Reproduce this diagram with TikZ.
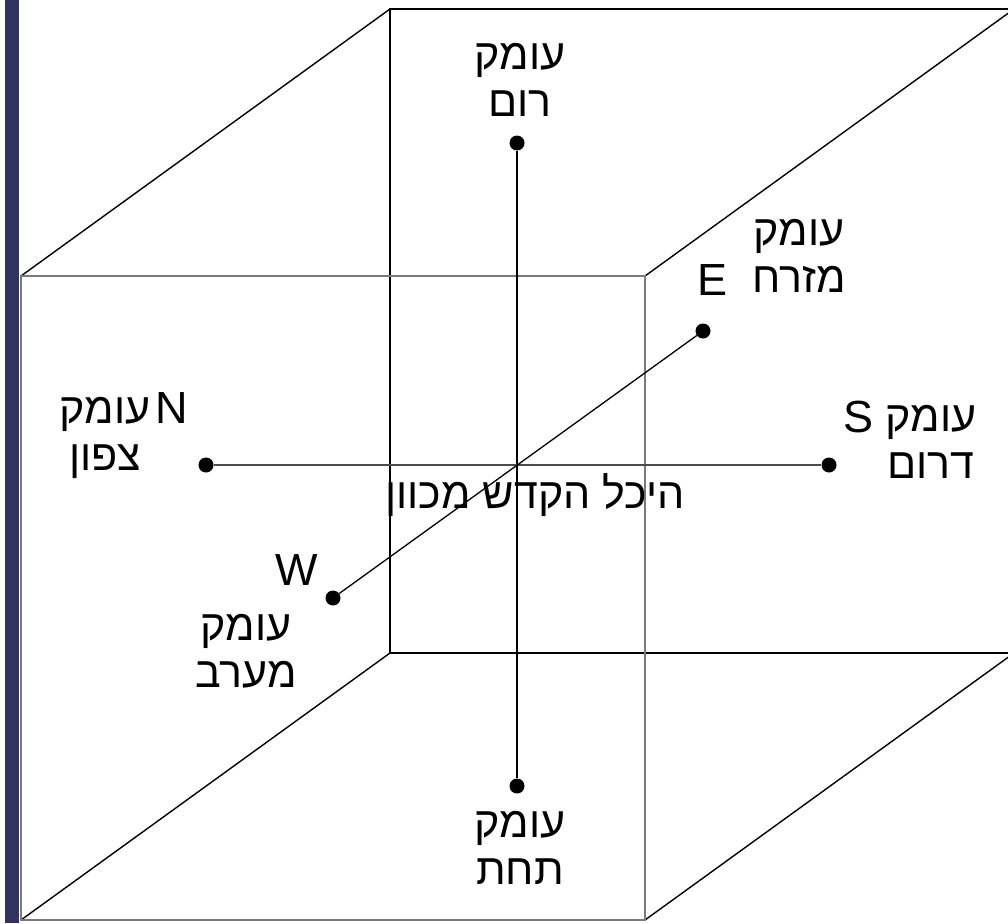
\documentclass[tikz,border=0pt]{standalone}
\usepackage{fontspec}
\setmainfont{Liberation Sans}
\newfontfamily\heb[Script=Hebrew]{Liberation Sans}
\TeXXeTstate=1
\definecolor{navybar}{HTML}{333360}
\definecolor{frontgray}{HTML}{7A7A7A}
\begin{document}
\begin{tikzpicture}[x=1pt,y=-1pt,
  frontedge/.style={draw=frontgray,line width=2.2pt},
  backedge/.style={draw=black,line width=1.4pt},
  axisline/.style={draw=black,line width=1.3pt},
  haxis/.style={draw=black!70,line width=1.8pt},
  dot/.style={circle,fill=black,inner sep=0pt,minimum size=15pt},
  heblab/.style={font=\heb\fontsize{43}{47}\selectfont,align=center,anchor=base,inner sep=0pt},
  latlab/.style={font=\fontsize{45}{45}\selectfont,anchor=base,inner sep=0pt}]
\useasboundingbox (0,0) rectangle (1008,923);
\fill[navybar] (5,0) rectangle (19,923);
% cube corners
\coordinate (ftl) at (21,276);
\coordinate (ftr) at (645,276);
\coordinate (fbr) at (645,920);
\coordinate (fbl) at (21,920);
\coordinate (btl) at (390,9);
\coordinate (btr) at (1014,9);
\coordinate (bbr) at (1014,653);
\coordinate (bbl) at (390,653);
\begin{scope}
\clip (0,0) rectangle (1008,923);
\draw[backedge] (bbl) -- (btl) -- (btr) -- (bbr) -- cycle;
\draw[backedge] (ftl) -- (btl);
\draw[backedge] (ftr) -- (btr);
\draw[backedge] (fbl) -- (bbl);
\draw[backedge] (fbr) -- (bbr);
\draw[frontedge] (ftl) -- (ftr) -- (fbr) -- (fbl) -- cycle;
\end{scope}
% axis end points
\node[dot] (up) at (517,143) {};
\node[dot] (down) at (517,786) {};
\node[dot] (north) at (206,465) {};
\node[dot] (south) at (829,465) {};
\node[dot] (east) at (703,331) {};
\node[dot] (west) at (333,598) {};
\draw[axisline] (up) -- (down);
\draw[haxis] (north) -- (south);
\draw[axisline] (west) -- (east);
% labels (anchor = baseline of the last line)
\node[heblab] (lup) at (520,117) {\beginR עומק\endR\\\beginR רום\endR};
\node[heblab] (ldown) at (520,884) {\beginR עומק\endR\\\beginR תחת\endR};
\node[heblab] (lnorth) at (105,470) {\beginR עומק\endR\\\beginR צפון\endR};
\node[latlab] (nN) at (172,423) {N};
\node[heblab] (lsouth) at (931,478) {\beginR עומק\endR\\\beginR דרום\endR};
\node[latlab] (nS) at (858,432) {S};
\node[heblab] (least) at (799,292) {\beginR עומק\endR\\\beginR מזרח\endR};
\node[latlab] (nE) at (712,295) {E};
\node[heblab] (lwest) at (246,687) {\beginR עומק\endR\\\beginR מערב\endR};
\node[latlab] (nW) at (297,585) {W};
\node[heblab] (center) at (535,508) {\beginR היכל הקדש מכוון\endR};
\end{tikzpicture}
\end{document}
